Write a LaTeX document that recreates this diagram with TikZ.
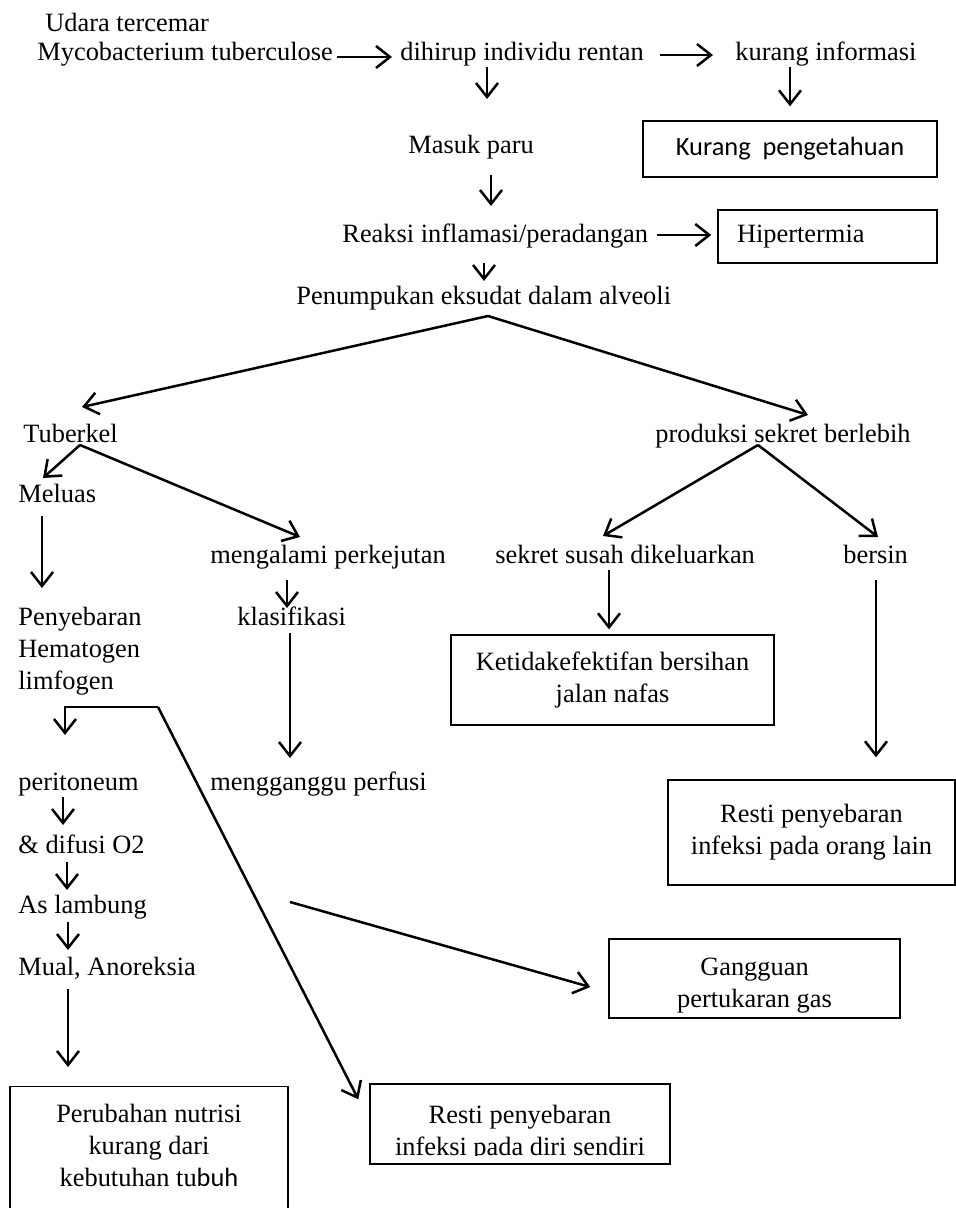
\documentclass[tikz,border=0pt]{standalone}
\usepackage{fontspec}
\setmainfont{Liberation Serif}
\newfontfamily\calfont{Carlito}
\usetikzlibrary{arrows.meta}
\begin{document}
\begin{tikzpicture}[x=0.5pt,y=-0.5pt,
  every node/.style={inner sep=0pt, font=\fontsize{13.2pt}{16pt}\selectfont},
  txt/.style={anchor=base west},
  box/.style={draw, line width=0.7pt, align=center, inner sep=0pt},
  arr/.style={line width=1.25pt, line join=miter, -{Straight Barb[length=7pt,width=11pt]}}]
\useasboundingbox (0,0) rectangle (956,1208);
% text nodes
\node[txt] (udara) at (45,32) {Udara tercemar};
\node[txt] (myco) at (37,61) {Mycobacterium tuberculose};
\node[txt] (dihirup) at (400,61) {dihirup individu rentan};
\node[txt] (kinfo) at (735,61) {kurang informasi};
\node[txt] (masuk) at (408,154) {Masuk paru};
\node[txt] (reaksi) at (342,243) {Reaksi inflamasi/peradangan};
\node[txt] (penum) at (296,305) {Penumpukan eksudat dalam alveoli};
\node[txt] (tuber) at (23,442) {Tuberkel};
\node[txt] (prod) at (655,442) {produksi sekret berlebih};
\node[txt] (meluas) at (18,502) {Meluas};
\node[txt] (menga) at (210,563) {mengalami perkejutan};
\node[txt] (sekret) at (495,563) {sekret susah dikeluarkan};
\node[txt] (bersin) at (843,563) {bersin};
\node[txt] (klas) at (237,625) {klasifikasi};
\node[anchor=north west, align=left] (penyeb) at (18,607) {Penyebaran\\Hematogen\\limfogen};
\node[txt] (mengg) at (210,790) {mengganggu perfusi};
\node[txt] (perit) at (18,790) {peritoneum};
\node[txt] (difusi) at (18,853) {\& difusi O2};
\node[txt] (aslamb) at (18,913) {As lambung};
\node[txt] (mual) at (18,975) {Mual, Anoreksia};
% boxes
\node[box, minimum width=147pt, minimum height=28pt, font=\fontsize{13.2pt}{16pt}\selectfont\calfont] (kpeng) at (790,149) {Kurang\ \ pengetahuan};
\node[box, minimum height=26.5pt, text width=90.5pt, inner xsep=9.5pt, align=left] (hiper) at (827.5,236.5) {Hipertermia};
\node[box, minimum width=161.5pt, minimum height=45pt] (ket) at (612.5,680) {Ketidakefektifan bersihan\\jalan nafas};
\node[box, minimum width=143.5pt, minimum height=52.5pt] (restiOL) at (811.5,832.5) {Resti penyebaran\\infeksi pada orang lain};
\node[box, minimum width=145.5pt, minimum height=39.5pt] (gang) at (754.5,978.5) {\rule{0pt}{16pt}Gangguan\\pertukaran gas};
\node[box, minimum width=150pt, minimum height=40pt] (restiD) at (520,1124) {\rule{0pt}{18pt}Resti penyebaran\\infeksi pada diri sendiri};
\fill[white] ([shift={(2,-9)}]restiD.south west) rectangle ([shift={(-2,-3)}]restiD.south east);
\node[box, anchor=north, minimum width=139pt, minimum height=75pt] (perub) at (149,1086) {Perubahan nutrisi\\kurang dari\\kebutuhan tu{\calfont buh}\\\mbox{}};
% connectors
\draw[arr] ([shift={(300,-4)}]myco.base west) -- ([shift={(-8,-4)}]dihirup.base west);
\draw[arr] ([shift={(260,-6)}]dihirup.base west) -- ([shift={(-22,-6)}]kinfo.base west);
\draw[arr] ([shift={(55,6)}]kinfo.base west) -- ([shift={(0,-14)}]kpeng.north);
\draw[arr] ([shift={(87,6)}]dihirup.base west) -- ([shift={(79,-55)}]masuk.base west);
\draw[arr] ([shift={(83,21)}]masuk.base west) -- ([shift={(149,-37)}]reaksi.base west);
\draw[arr] ([shift={(315,-8)}]reaksi.base west) -- ([shift={(-6,-1.5)}]hiper.west);
\draw[arr] ([shift={(142,20)}]reaksi.base west) -- ([shift={(188,-24)}]penum.base west);
\coordinate (apex) at ([shift={(192,11)}]penum.base west);
\draw[arr] (apex) -- ([shift={(59,-35)}]tuber.base west);
\draw[arr] (apex) -- ([shift={(153,-27)}]prod.base west);
\coordinate (tb) at ([shift={(57,3)}]tuber.base west);
\draw[arr] (tb) -- ([shift={(25,-24)}]meluas.base west);
\draw[arr] (tb) -- ([shift={(90,-26)}]menga.base west);
\draw[arr] ([shift={(24,14)}]meluas.base west) -- ([shift={(24,-19)}]penyeb.north west);
\coordinate (pr) at ([shift={(103,3)}]prod.base west);
\draw[arr] (pr) -- ([shift={(108,-27)}]sekret.base west);
\draw[arr] (pr) -- ([shift={(35,-26)}]bersin.base west);
\draw[arr] ([shift={(77,17)}]menga.base west) -- ([shift={(50,-17)}]klas.base west);
\draw[arr] ([shift={(53,8)}]klas.base west) -- ([shift={(80,-32)}]mengg.base west);
\draw[arr] ([shift={(114,7)}]sekret.base west) -- ([shift={(-3.5,-5)}]ket.north);
\draw[arr] ([shift={(33,17)}]bersin.base west) -- ([shift={(64.5,-22)}]restiOL.north);
\coordinate (split) at (158,707);
\coordinate (splitL) at (65,707);
\draw[arr] (split) -- (splitL) -- ([shift={(47,-55)}]perit.base west);
\draw[arr] (split) -- ([shift={(-11,16)}]restiD.north west);
\draw[arr] ([shift={(45,7)}]perit.base west) -- ([shift={(45,-28)}]difusi.base west);
\draw[arr] ([shift={(49,9)}]difusi.base west) -- ([shift={(49,-23)}]aslamb.base west);
\draw[arr] ([shift={(50,9)}]aslamb.base west) -- ([shift={(50,-25)}]mual.base west);
\draw[arr] ([shift={(50,14)}]mual.base west) -- ([shift={(-81,-19)}]perub.north);
\coordinate (gasfrom) at (290,902);
\draw[arr] (gasfrom) -- ([shift={(-18,8.5)}]gang.west);
\end{tikzpicture}
\end{document}
